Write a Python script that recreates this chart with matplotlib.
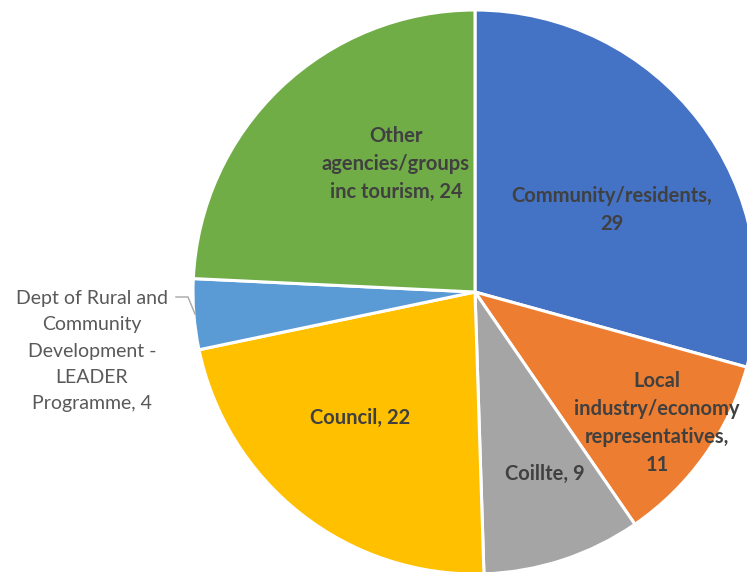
import matplotlib
matplotlib.use("Agg")
import matplotlib.pyplot as plt

# stakeholder groups, clockwise from 12 o'clock
groups = ["Community/residents", "Local\nindustry/economy\nrepresentatives", "Coillte",
          "Council", "Dept of Rural and\nCommunity\nDevelopment -\nLEADER\nProgramme",
          "Other\nagencies/groups\ninc tourism"]
counts = [29, 11, 9, 22, 4, 24]
seps = [",\n", ",\n", ", ", ", ", ", ", ", "]
colors = ["#4472C4", "#ED7D31", "#A5A5A5", "#FFC000", "#5B9BD5", "#70AD47"]

W, H = 747, 572
fig = plt.figure(figsize=(W / 100, H / 100), dpi=100)
ax = fig.add_axes([0, 0, 1, 1])

cx, cy, r = 475, H - 292, 282
ax.pie(counts, colors=colors, startangle=90, counterclock=False,
       center=(cx, cy), radius=r,
       wedgeprops=dict(edgecolor="white", linewidth=2.2))
ax.set_xlim(0, W); ax.set_ylim(0, H)
ax.set_aspect("equal"); ax.axis("off")

labels = [g + s + str(v) for g, s, v in zip(groups, seps, counts)]
# label anchor points (pixels from top-left)
spots = [(612, 210), (657, 423), (545, 474), (360, 418), (92, 351), (396, 164)]
FONT = ["Lato", "DejaVu Sans"]
for i, (lab, (px, py)) in enumerate(zip(labels, spots)):
    inside = i != 4
    ax.text(px, H - py, lab, ha="center", va="center", family=FONT,
            fontsize=14.5 if inside else 14, fontweight="bold" if inside else "normal",
            color="#404040" if inside else "#595959",
            linespacing=1.48 if inside else 1.65)

# leader line for the small slice
ax.plot([176, 188, 195], [H - 297, H - 297, H - 314], color="#A6A6A6", lw=1)

fig.savefig("out.png", dpi=100, facecolor="white")
